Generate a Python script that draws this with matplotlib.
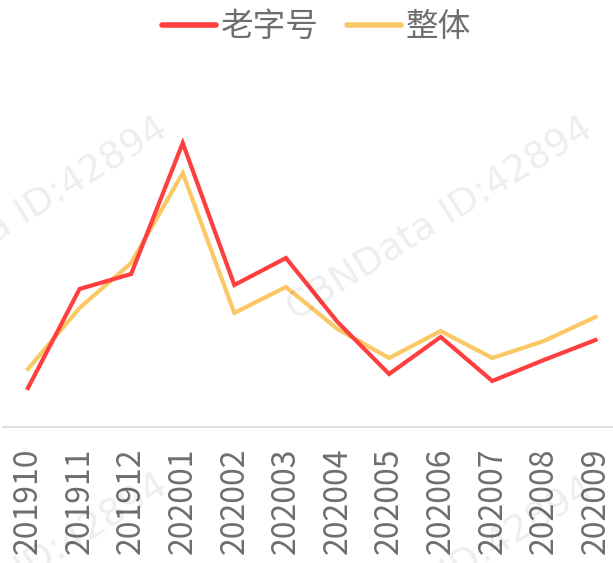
import matplotlib
matplotlib.use("Agg")
import matplotlib.pyplot as plt

plt.rcParams['font.family'] = ['Noto Sans CJK SC', 'DejaVu Sans']

months = ["201910", "201911", "201912", "202001", "202002", "202003",
          "202004", "202005", "202006", "202007", "202008", "202009"]
laozihao = [39, 138, 153, 284, 142, 169, 105, 53, 90, 46, 67, 87]
overall = [58, 119, 164, 254, 114, 140, 98, 69, 96, 69, 86, 110]

W, H = 613, 563
fig = plt.figure(figsize=(W / 100, H / 100), dpi=100)
fig.patch.set_facecolor("white")

ax_bottom = 427
ax_top = 60
ax = fig.add_axes([3 / W, (H - ax_bottom) / H, (W - 3) / W, (ax_bottom - ax_top) / H])
ax.set_facecolor("none")

x = list(range(len(months)))
l1, = ax.plot(x, laozihao, color="#ff3f3f", lw=3.0, solid_joinstyle="miter", label="老字号", zorder=3)
l2, = ax.plot(x, overall, color="#fac864", lw=3.0, solid_joinstyle="miter", label="整体", zorder=2)

ax.set_xlim(-0.484, 11.34)
ax.set_ylim(0, ax_bottom - ax_top)

for s in ["top", "right", "left"]:
    ax.spines[s].set_visible(False)
ax.spines["bottom"].set_color("#d9d9d9")
ax.spines["bottom"].set_linewidth(1.2)
ax.set_yticks([])
ax.set_xticks(x)
ax.set_xticklabels(months, rotation=90, fontsize=23, color="#6e6e6e")
ax.tick_params(axis="x", length=0, pad=15)

leg = fig.legend(handles=[l1, l2], loc="center", bbox_to_anchor=(0.5 + 10 / W, 1 - 27 / H),
                 ncol=2, frameon=False, fontsize=23.5, handlelength=1.66,
                 handletextpad=0.15, columnspacing=0.85, labelcolor="#6e6e6e",
                 borderpad=0)
for line in leg.get_lines():
    line.set_linewidth(4.0)
    line.set_solid_capstyle("round")

# watermarks
wm = "CBNData ID:42894"
for (px, py) in [(15, 220), (440, 220), (15, 577), (441, 580)]:
    fig.text(px / W, 1 - py / H, wm, fontsize=27, color="#000000", alpha=0.07,
             rotation=32, ha="center", va="center", family=["DejaVu Sans"], zorder=0)

fig.savefig("out.png", dpi=100, facecolor="white")
